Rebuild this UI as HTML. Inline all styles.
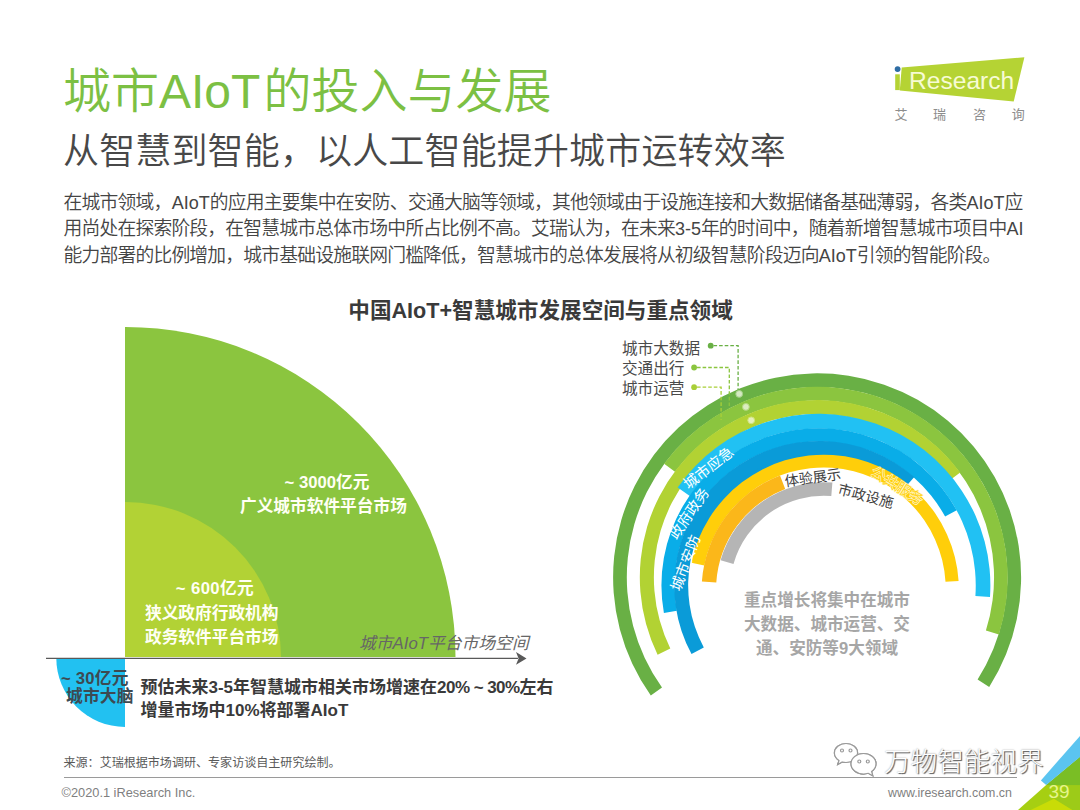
<!DOCTYPE html>
<html lang="zh-CN">
<head>
<meta charset="utf-8">
<title>城市AIoT的投入与发展</title>
<style>
html,body{margin:0;padding:0;background:#fff;}
body{width:1080px;height:810px;position:relative;overflow:hidden;font-family:"Liberation Sans","Noto Sans CJK SC",sans-serif;color:#404040;}
.abs{position:absolute;white-space:nowrap;margin:0;}
#title{left:63px;top:57.5px;font-size:48px;font-weight:350;color:#7cc043;line-height:68px;}
#subtitle{left:63px;top:125.5px;letter-spacing:0.15px;font-size:36px;font-weight:350;color:#484848;line-height:52px;}
.body{left:63.5px;width:959px;font-size:18.8px;letter-spacing:-0.8px;font-weight:350;line-height:26px;color:#444;text-align:justify;text-align-last:justify;}
#b1{top:190px;}#b2{top:216.4px;}#b3{top:242.8px;text-align-last:left;}
#ctitle{left:348.3px;top:294.7px;font-size:21.6px;font-weight:700;line-height:32px;color:#3a3a3a;}
#chart{position:absolute;left:0;top:0;width:1080px;height:810px;}
.w{color:#fffff4;font-weight:700;font-size:16.7px;line-height:24px;text-align:center;}
.d{color:#3a3a3a;font-weight:700;}
#src{left:63.5px;top:754px;font-size:12.05px;line-height:18px;color:#595959;}
#copy{left:61.5px;top:785.3px;font-size:12.8px;line-height:16px;color:#7f7f7f;}
#url{left:888px;top:785px;font-size:12.4px;line-height:16px;color:#7f7f7f;}
#pg{left:1048.4px;top:779.5px;font-size:19px;line-height:24px;color:#e6f58c;}
#hr{position:absolute;left:64px;top:777.3px;width:952.5px;height:1px;background:#9a9a9a;}
.body i{font-style:normal;font-size:18px;letter-spacing:0;}
</style>
</head>
<body>
<svg id="chart" viewBox="0 0 1080 810">
<g id="leftchart">
<path d="M125,657 L125,327 A330,330 0 0 1 455.5,657 Z" fill="#8bc53f"/>
<path d="M125,657 L125,502 A155.5,155.5 0 0 1 281,657 Z" fill="#b2d235"/>
<path d="M125,658 L125,727 A69,69 0 0 1 56.3,658 Z" fill="#22c1f1"/>
<path d="M46,658.4 H518" stroke="#595959" stroke-width="1.4" fill="none"/>
<path d="M526.5,658.4 L516,652 L518.6,658.4 L516,664.8 Z" fill="#595959"/>
</g>
<!--RC--><g id="rightchart">
<path d="M650.8,695.5 A204.0,204.0 0 1 1 989.2,686.9 L977.6,679.5 A190.3,190.3 0 1 0 662.0,687.5 Z" fill="#69b045"/>
<path d="M664.1,463.7 A190.6,190.6 0 0 1 998.9,634.6 L985.9,630.5 A177.0,177.0 0 0 0 675.0,471.8 Z" fill="#8bc53f"/>
<path d="M657.6,654.7 A177.3,177.3 0 0 1 960.2,472.6 L948.8,480.9 A163.2,163.2 0 0 0 670.3,648.6 Z" fill="#b2d233"/>
<path d="M677.7,487.5 A171.7,171.7 0 0 1 990.0,596.9 L975.4,595.9 A157.0,157.0 0 0 0 689.8,495.9 Z" fill="#21c1f3"/>
<path d="M663.9,613.1 A157.2,157.2 0 0 1 956.7,510.2 L945.1,516.6 A144.0,144.0 0 0 0 676.9,610.8 Z" fill="#09ade8"/>
<path d="M691.5,654.0 A144.5,144.5 0 0 1 914.3,477.1 L905.0,487.6 A130.5,130.5 0 0 0 703.8,647.4 Z" fill="#0a9bd8"/>
<path d="M692.9,547.1 A131.5,131.5 0 0 1 905.7,486.9 L901.7,491.4 A125.5,125.5 0 0 0 698.7,548.8 Z" fill="#0a9bd8"/>
<path d="M691.4,562.8 A135.1,135.1 0 0 1 958.6,581.0 L945.5,581.8 A121.9,121.9 0 0 0 704.3,565.4 Z" fill="#ffce0a"/>
<path d="M701.9,581.6 A122.2,122.2 0 0 1 780.0,475.4 L785.2,489.0 A107.7,107.7 0 0 0 716.3,582.5 Z" fill="#fbb71a"/>
<path d="M720.6,560.3 A107.3,107.3 0 0 1 832.4,482.5 L831.3,496.0 A93.8,93.8 0 0 0 733.5,564.0 Z" fill="#b5b5b5"/>
<path d="M713.5,345.7 H738.1 V390.5" fill="none" stroke="#69b045" stroke-width="1.3" stroke-dasharray="3.6 2"/>
<path d="M697,367.5 H729.3 V408" fill="none" stroke="#8bc53f" stroke-width="1.3" stroke-dasharray="3.6 2"/>
<path d="M697,387.2 H721.1 V420" fill="none" stroke="#a9cf38" stroke-width="1.3" stroke-dasharray="3.6 2"/>
<circle cx="710.7" cy="345.7" r="2.9" fill="#69b045"/>
<circle cx="694.1" cy="367.5" r="2.9" fill="#8bc53f"/>
<circle cx="694.1" cy="387.2" r="2.9" fill="#a9cf38"/>
<circle cx="739.2" cy="393.9" r="3.4" fill="#d4e9c4" stroke="#a5d08a" stroke-width="1"/>
<circle cx="745.9" cy="406.9" r="3.4" fill="#dcedc0" stroke="#b4d97e" stroke-width="1"/>
<circle cx="751.2" cy="420.3" r="3.4" fill="#e6f0bc" stroke="#cfe37a" stroke-width="1"/>
<text transform="translate(708.6,468.0) rotate(-37.8)" text-anchor="middle" dominant-baseline="central" font-size="14.6" font-weight="400" fill="#ffffff">城市应急</text>
<text transform="translate(689.2,513.7) rotate(-55.3)" text-anchor="middle" dominant-baseline="central" font-size="14.6" font-weight="400" fill="#ffffff">政府政务</text>
<text transform="translate(685.6,563.0) rotate(-69.3)" text-anchor="middle" dominant-baseline="central" font-size="14.6" font-weight="400" fill="#ffffff">城市安防</text>
<text transform="translate(812.8,477.7) rotate(-7.9)" text-anchor="middle" dominant-baseline="central" font-size="14.2" font-weight="400" fill="#404040">体验展示</text>
<text transform="translate(865.8,496.0) rotate(14.9)" text-anchor="middle" dominant-baseline="central" font-size="14.2" font-weight="400" fill="#404040">市政设施</text>
<text stroke="#fff8d0" stroke-width="1.2" paint-order="stroke" transform="translate(897.0,485.8) rotate(31.7)" text-anchor="middle" dominant-baseline="central" font-size="14.6" font-weight="400" fill="#ffd41a">公共服务</text>
</g><!--/RC-->
<g id="corner">
<path d="M1018,810 L1046.2,784.9 L1080,757 L1080,810 Z" fill="#a6cf12"/>
<path d="M1046.2,784.9 L1080,756.7 L1080,785.5 Z" fill="#7abe25"/>
<path d="M1053.9,798.8 L1066,785.2 L1080,785.3 L1080,810 L1072.3,810 Z" fill="#9dcb18"/>
<path d="M1030.8,810 L1053.9,798.8 L1072.3,810 Z" fill="#c9dc07"/>
<path d="M1040.9,780.4 L1080,735.9 L1080,756.9 L1046.2,784.9 Z" fill="#5bc4f0"/>
</g>
<g id="logo">
<path d="M901.7,67.4 L1024.4,57.2 L1013.7,101.5 L899.8,90.4 Z" fill="#b5d334"/>
<rect x="895.2" y="74.3" width="4.6" height="15.8" fill="#b5d334"/>
<circle cx="897.6" cy="69.1" r="2.9" fill="#2e6da4"/>
<text x="909" y="89.2" font-size="24.6" fill="#f7fbd4" font-family="Liberation Sans, sans-serif">Research</text>
<g font-size="13" fill="#8c8c8c" text-anchor="middle">
<text x="901" y="119">艾</text><text x="939.6" y="119">瑞</text><text x="979.4" y="119">咨</text><text x="1018.3" y="119">询</text>
</g>
</g>
<g id="wechat" fill="#fff" stroke="#9a9a9a" stroke-width="1.2" style="filter:drop-shadow(0.8px 0.8px 0.6px #888)">
<path d="M846,743.5 c6.4,0 11.6,4.2 11.6,9.5 s-5.2,9.5 -11.6,9.5 c-1.3,0 -2.5,-0.2 -3.7,-0.5 l-4.6,2.6 1.3,-4.2 c-2.8,-1.7 -4.6,-4.4 -4.6,-7.4 c0,-5.3 5.2,-9.5 11.6,-9.5 Z"/>
<path d="M863.5,753.5 c6.9,0 12.5,4.6 12.5,10.3 c0,3.1 -1.7,5.9 -4.4,7.8 l1.2,4.1 -4.5,-2.4 c-1.5,0.5 -3.1,0.8 -4.8,0.8 c-6.9,0 -12.5,-4.6 -12.5,-10.3 s5.6,-10.3 12.5,-10.3 Z"/>
<circle cx="842" cy="750.5" r="1.5"/><circle cx="850.5" cy="750.5" r="1.5"/>
<circle cx="859.3" cy="761.5" r="1.5"/><circle cx="867.8" cy="761.5" r="1.5"/>
</g>
</svg>
<div class="abs" id="title">城市<span style="margin-right:3px">AIoT</span>的投入与发展</div>
<div class="abs" id="subtitle">从智慧到智能，以人工智能提升城市运转效率</div>
<div class="abs body" id="b1">在城市领域，<i>AIoT</i>的应用主要集中在安防、交通大脑等领域，其他领域由于设施连接和大数据储备基础薄弱，各类<i>AIoT</i>应</div>
<div class="abs body" id="b2">用尚处在探索阶段，在智慧城市总体市场中所占比例不高。艾瑞认为，在未来<i>3-5</i>年的时间中，随着新增智慧城市项目中<i>AI</i></div>
<div class="abs body" id="b3">能力部署的比例增加，城市基础设施联网门槛降低，智慧城市的总体发展将从初级智慧阶段迈向<i>AIoT</i>引领的智能阶段。</div>
<div class="abs" id="ctitle">中国AIoT+智慧城市发展空间与重点领域</div>
<div class="abs w" style="left:245px;top:470.5px;width:164px;">~ 3000亿元</div>
<div class="abs w" style="left:240px;top:494.5px;width:164px;">广义城市软件平台市场</div>
<div class="abs w" style="left:149px;top:576.8px;width:132px;letter-spacing:0.4px;">~ 600亿元</div>
<div class="abs w" style="left:145px;top:601.5px;width:132px;">狭义政府行政机构</div>
<div class="abs w" style="left:145px;top:626.3px;width:132px;">政务软件平台市场</div>
<div class="abs" id="axl" style="left:359px;top:631.8px;font-size:16.8px;font-style:italic;color:#666;line-height:24px;font-weight:400;">城市AIoT平台市场空间</div>
<div class="abs d" style="color:#3d4a52;left:61px;top:668.5px;letter-spacing:0.2px;font-size:16.7px;line-height:20px;">~ 30亿元</div>
<div class="abs d" style="color:#3d4a52;left:66px;top:686.5px;letter-spacing:0.2px;font-size:16.7px;line-height:20px;">城市大脑</div>
<div class="abs d" style="left:140.5px;top:677px;font-size:17px;line-height:22.6px;">预估未来3-5年智慧城市相关市场增速在<span style="letter-spacing:-0.55px">20% ~ 30%</span>左右<br>增量市场中10%将部署AIoT</div>
<div class="abs" style="left:622px;top:339px;font-size:15.6px;line-height:20px;color:#4a4a4a;">城市大数据<br>交通出行<br>城市运营</div>
<div class="abs" style="left:727px;top:589px;width:200px;text-align:center;font-size:16.6px;font-weight:700;line-height:24.2px;color:#a6a6a6;">重点增长将集中在城市<br>大数据、城市运营、交<br>通、安防等9大领域</div>
<div class="abs" id="wm" style="left:884px;top:743px;font-size:26.6px;font-weight:300;line-height:38px;color:#fff;text-shadow:1.2px 1.2px 0.8px #5e5e5e,0 0 1.5px #8a8a8a;">万物智能视界</div>

<div id="hr"></div>
<div class="abs" id="src">来源：艾瑞根据市场调研、专家访谈自主研究绘制。</div>
<div class="abs" id="copy">©2020.1 iResearch Inc.</div>
<div class="abs" id="url">www.iresearch.com.cn</div>
<div class="abs" id="pg">39</div>
</body>
</html>
